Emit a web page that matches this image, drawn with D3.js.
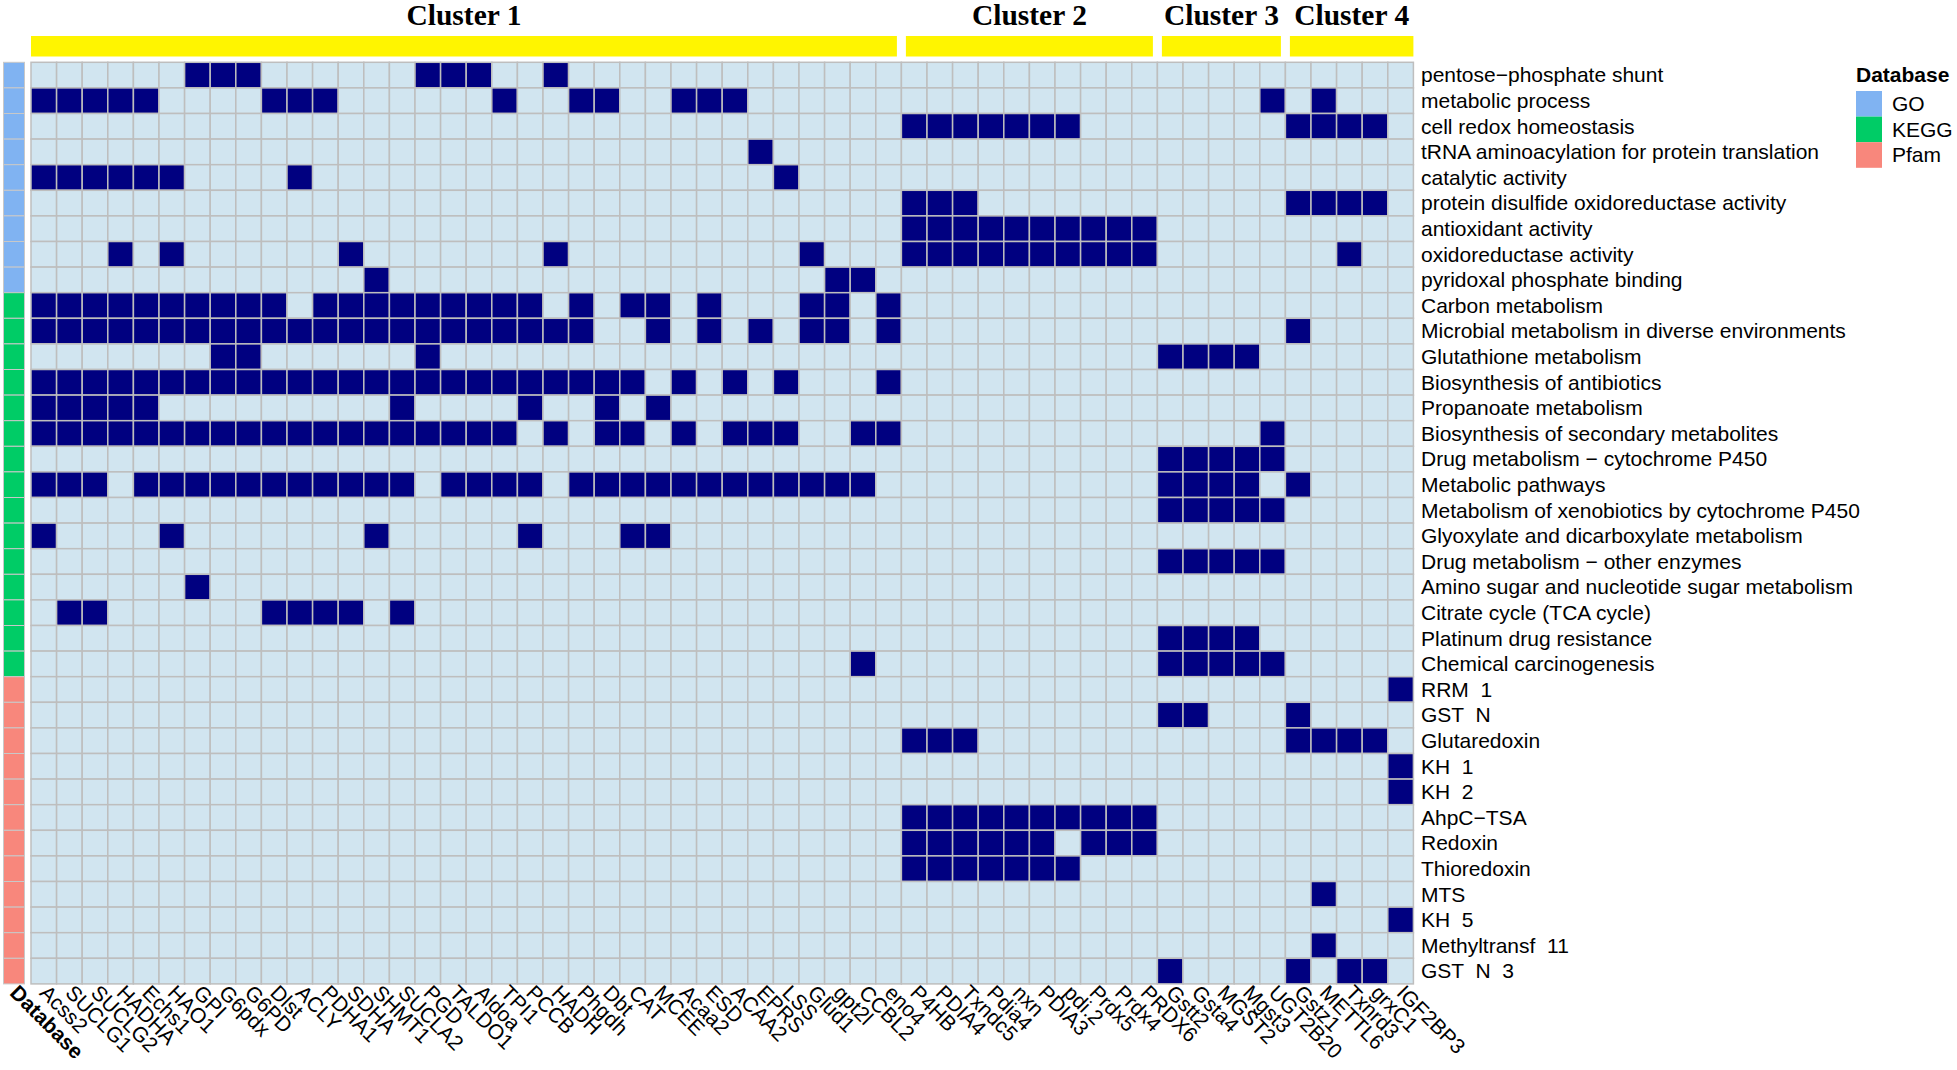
<!DOCTYPE html>
<html>
<head>
<meta charset="utf-8">
<script src="https://cdn.jsdelivr.net/npm/d3@7"></script>
<style>
  body { margin: 0; background: #fff; }
  svg { display: block; }
  text { font-family: "Liberation Sans", Arial, sans-serif; fill: #000; }
</style>
</head>
<body>
<script>
// genes (columns), in cluster order
const genes = [
  "Acss2", "SUCLG1", "SUCLG2", "HADHA", "Echs1", "HAO1", "GPI", "G6pdx", "G6PD", "Dlst",
  "ACLY", "PDHA1", "SDHA", "SHMT1", "SUCLA2", "PGD", "TALDO1", "Aldoa", "TPI1", "PCCB",
  "HADH", "Phgdh", "Dbt", "CAT", "MCEE", "Acaa2", "ESD", "ACAA2", "EPRS", "LSS",
  "Glud1", "gpt2l", "CCBL2", "eno4",
  "P4HB", "PDIA4", "Txndc5", "Pdia4", "nxn", "PDIA3", "pdi.2", "Prdx5", "Prdx4", "PRDX6",
  "Gstt2", "Gsta4", "MGST2", "Mgst3", "UGT2B20",
  "Gstz1", "METTL6", "Txnrd3", "grxC1", "IGF2BP3"
];

const clusterNames = ["Cluster 1", "Cluster 2", "Cluster 3", "Cluster 4"];
const clusterSizes = [34, 10, 5, 5];

// terms (rows)
const terms = [
  "pentose\u2212phosphate shunt", "metabolic process", "cell redox homeostasis",
  "tRNA aminoacylation for protein translation", "catalytic activity",
  "protein disulfide oxidoreductase activity", "antioxidant activity",
  "oxidoreductase activity", "pyridoxal phosphate binding",
  "Carbon metabolism", "Microbial metabolism in diverse environments",
  "Glutathione metabolism", "Biosynthesis of antibiotics", "Propanoate metabolism",
  "Biosynthesis of secondary metabolites", "Drug metabolism \u2212 cytochrome P450",
  "Metabolic pathways", "Metabolism of xenobiotics by cytochrome P450",
  "Glyoxylate and dicarboxylate metabolism", "Drug metabolism \u2212 other enzymes",
  "Amino sugar and nucleotide sugar metabolism", "Citrate cycle (TCA cycle)",
  "Platinum drug resistance", "Chemical carcinogenesis",
  "RRM  1", "GST  N", "Glutaredoxin", "KH  1", "KH  2", "AhpC\u2212TSA", "Redoxin",
  "Thioredoxin", "MTS", "KH  5", "Methyltransf  11", "GST  N  3"
];

const databases = [
  "GO", "GO", "GO", "GO", "GO", "GO", "GO", "GO", "GO",
  "KEGG", "KEGG", "KEGG", "KEGG", "KEGG", "KEGG", "KEGG", "KEGG", "KEGG", "KEGG",
  "KEGG", "KEGG", "KEGG", "KEGG", "KEGG",
  "Pfam", "Pfam", "Pfam", "Pfam", "Pfam", "Pfam", "Pfam", "Pfam", "Pfam", "Pfam",
  "Pfam", "Pfam"
];

// column indices (into genes) annotated with each term
const hits = [
  [6, 7, 8, 15, 16, 17, 20],
  [0, 1, 2, 3, 4, 9, 10, 11, 18, 21, 22, 25, 26, 27, 48, 50],
  [34, 35, 36, 37, 38, 39, 40, 49, 50, 51, 52],
  [28],
  [0, 1, 2, 3, 4, 5, 10, 29],
  [34, 35, 36, 49, 50, 51, 52],
  [34, 35, 36, 37, 38, 39, 40, 41, 42, 43],
  [3, 5, 12, 20, 30, 34, 35, 36, 37, 38, 39, 40, 41, 42, 43, 51],
  [13, 31, 32],
  [0, 1, 2, 3, 4, 5, 6, 7, 8, 9, 11, 12, 13, 14, 15, 16, 17, 18, 19, 21, 23, 24, 26, 30, 31, 33],
  [0, 1, 2, 3, 4, 5, 6, 7, 8, 9, 10, 11, 12, 13, 14, 15, 16, 17, 18, 19, 20, 21, 24, 26, 28, 30, 31, 33, 49],
  [7, 8, 15, 44, 45, 46, 47],
  [0, 1, 2, 3, 4, 5, 6, 7, 8, 9, 10, 11, 12, 13, 14, 15, 16, 17, 18, 19, 20, 21, 22, 23, 25, 27, 29, 33],
  [0, 1, 2, 3, 4, 14, 19, 22, 24],
  [0, 1, 2, 3, 4, 5, 6, 7, 8, 9, 10, 11, 12, 13, 14, 15, 16, 17, 18, 20, 22, 23, 25, 27, 28, 29, 32, 33, 48],
  [44, 45, 46, 47, 48],
  [0, 1, 2, 4, 5, 6, 7, 8, 9, 10, 11, 12, 13, 14, 16, 17, 18, 19, 21, 22, 23, 24, 25, 26, 27, 28, 29, 30, 31, 32, 44, 45, 46, 47, 49],
  [44, 45, 46, 47, 48],
  [0, 5, 13, 19, 23, 24],
  [44, 45, 46, 47, 48],
  [6],
  [1, 2, 9, 10, 11, 12, 14],
  [44, 45, 46, 47],
  [32, 44, 45, 46, 47, 48],
  [53],
  [44, 45, 49],
  [34, 35, 36, 49, 50, 51, 52],
  [53],
  [53],
  [34, 35, 36, 37, 38, 39, 40, 41, 42, 43],
  [34, 35, 36, 37, 38, 39, 41, 42, 43],
  [34, 35, 36, 37, 38, 39, 40],
  [50],
  [53],
  [50],
  [44, 49, 51, 52]
];

const dbNames = ["GO", "KEGG", "Pfam"];

const w = 1957;
const h = 1070;

const svg = d3.select("body").append("svg").attr("width", w).attr("height", h);

const x = d3.scaleBand().domain(genes).range([31, 1413.4]);
const y = d3.scaleBand().domain(terms).range([62.3, 983.9]);
const fill = d3.scaleOrdinal().domain([0, 1]).range(["#d1e5f0", "#000080"]);
const dbColor = d3.scaleOrdinal().domain(dbNames).range(["#80b3f2", "#00cc66", "#f8877c"]);

const cells = [];
terms.forEach((t, i) => {
  genes.forEach((g, j) => {
    cells.push({ term: t, gene: g, value: hits[i].includes(j) ? 1 : 0 });
  });
});

// heatmap body
svg
  .append("g")
  .selectAll("rect")
  .data(cells)
  .enter()
  .append("rect")
  .attr("x", (d) => x(d.gene))
  .attr("y", (d) => y(d.term))
  .attr("width", x.bandwidth())
  .attr("height", y.bandwidth())
  .attr("fill", (d) => fill(d.value))
  .attr("stroke", "#bebebe")
  .attr("stroke-width", 1.5);

// database row annotation
svg
  .append("g")
  .selectAll("rect")
  .data(terms)
  .enter()
  .append("rect")
  .attr("x", 3.5)
  .attr("y", (d) => y(d))
  .attr("width", 21)
  .attr("height", y.bandwidth())
  .attr("fill", (d, i) => dbColor(databases[i]))
  .attr("stroke", "#c8c8c8")
  .attr("stroke-width", 1);

// cluster bars and titles
let start = 0;
const spans = clusterNames.map((name, k) => {
  const first = genes[start];
  const last = genes[start + clusterSizes[k] - 1];
  start += clusterSizes[k];
  return {
    name: name,
    x0: x(first) + (k > 0 ? 4.5 : 0),
    x1: x(last) + x.bandwidth() - (k < clusterNames.length - 1 ? 4.5 : 0)
  };
});

svg
  .append("g")
  .selectAll("rect")
  .data(spans)
  .enter()
  .append("rect")
  .attr("x", (d) => d.x0)
  .attr("y", 36)
  .attr("width", (d) => d.x1 - d.x0)
  .attr("height", 20.5)
  .attr("fill", "#fff500");

svg
  .append("g")
  .selectAll("text")
  .data(spans)
  .enter()
  .append("text")
  .attr("x", (d) => (d.x0 + d.x1) / 2)
  .attr("y", 25)
  .attr("text-anchor", "middle")
  .style("font-family", '"Liberation Serif", "Times New Roman", serif')
  .style("font-weight", "bold")
  .style("font-size", "29.5px")
  .text((d) => d.name);

// row labels
svg
  .append("g")
  .selectAll("text")
  .data(terms)
  .enter()
  .append("text")
  .attr("x", 1421)
  .attr("y", (d) => y(d) + y.bandwidth() / 2)
  .attr("dy", "0.35em")
  .style("font-size", "21px")
  .style("white-space", "pre")
  .text((d) => d);

// column labels
const bottom = y.range()[1];
svg
  .append("g")
  .selectAll("text")
  .data(genes)
  .enter()
  .append("text")
  .attr("transform", (d) => `translate(${x(d) + x.bandwidth() / 2},${bottom + 5}) rotate(45)`)
  .attr("dy", "0.35em")
  .style("font-size", "21px")
  .text((d) => d);

svg
  .append("text")
  .attr("transform", `translate(14,${bottom + 5}) rotate(45)`)
  .attr("dy", "0.35em")
  .style("font-size", "21px")
  .style("font-weight", "bold")
  .text("Database");

// legend
const legend = svg.append("g").attr("transform", "translate(1856,0)");

legend
  .append("text")
  .attr("x", 0)
  .attr("y", 82)
  .style("font-size", "21px")
  .style("font-weight", "bold")
  .text("Database");

legend
  .selectAll("rect")
  .data(dbNames)
  .enter()
  .append("rect")
  .attr("x", 0)
  .attr("y", (d, i) => 91 + i * 25.6)
  .attr("width", 26)
  .attr("height", 25.6)
  .attr("fill", (d) => dbColor(d));

legend
  .selectAll("text.key")
  .data(dbNames)
  .enter()
  .append("text")
  .attr("class", "key")
  .attr("x", 36)
  .attr("y", (d, i) => 91 + i * 25.6 + 12.8)
  .attr("dy", "0.35em")
  .style("font-size", "21px")
  .text((d) => d);
</script>
</body>
</html>
